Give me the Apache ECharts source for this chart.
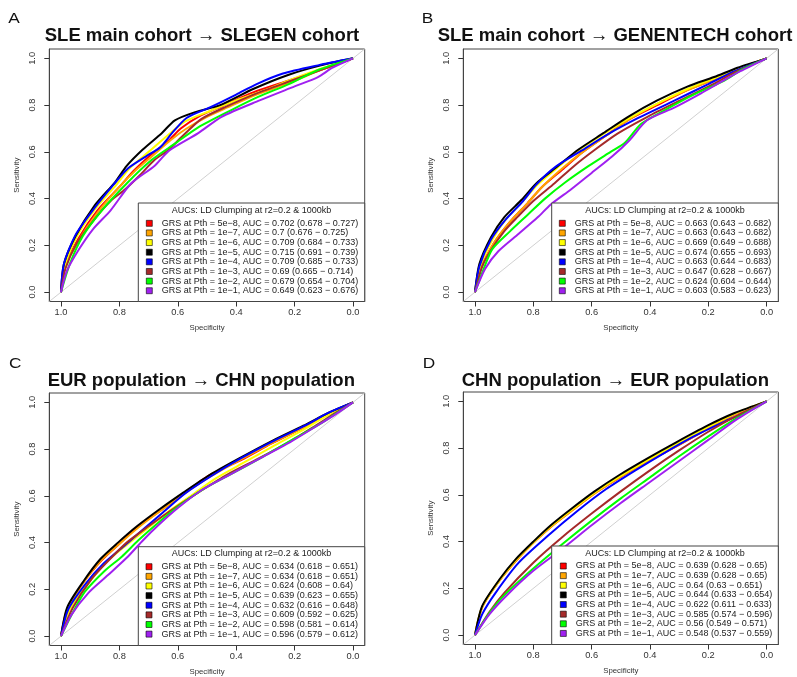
<!DOCTYPE html>
<html>
<head>
<meta charset="utf-8">
<script src="https://cdn.jsdelivr.net/npm/echarts@6/dist/echarts.min.js"></script>
<style>
html,body{margin:0;padding:0;background:#fff;}
#chart{width:797px;height:677px;}
</style>
</head>
<body>
<div id="chart"></div>
<script>
// ---------- DATA (specificity, sensitivity) ----------
const thresholds = ['5e−8','1e−7','1e−6','1e−5','1e−4','1e−3','1e−2','1e−1'];

const aucA = ['0.702 (0.678 − 0.727)','0.7 (0.676 − 0.725)','0.709 (0.684 − 0.733)','0.715 (0.691 − 0.739)','0.709 (0.685 − 0.733)','0.69 (0.665 − 0.714)','0.679 (0.654 − 0.704)','0.649 (0.623 − 0.676)'];
const aucB = ['0.663 (0.643 − 0.682)','0.663 (0.643 − 0.682)','0.669 (0.649 − 0.688)','0.674 (0.655 − 0.693)','0.663 (0.644 − 0.683)','0.647 (0.628 − 0.667)','0.624 (0.604 − 0.644)','0.603 (0.583 − 0.623)'];
const aucC = ['0.634 (0.618 − 0.651)','0.634 (0.618 − 0.651)','0.624 (0.608 − 0.64)','0.639 (0.623 − 0.655)','0.632 (0.616 − 0.648)','0.609 (0.592 − 0.625)','0.598 (0.581 − 0.614)','0.596 (0.579 − 0.612)'];
const aucD = ['0.639 (0.628 − 0.65)','0.639 (0.628 − 0.65)','0.64 (0.63 − 0.651)','0.644 (0.633 − 0.654)','0.622 (0.611 − 0.633)','0.585 (0.574 − 0.596)','0.56 (0.549 − 0.571)','0.548 (0.537 − 0.559)'];

const panelTitles = ['SLE main cohort → SLEGEN cohort','SLE main cohort → GENENTECH cohort','EUR population → CHN population','CHN population → EUR population'];
const panelLetters = ['A','B','C','D'];
const legendTitle = 'AUCs: LD Clumping at r2=0.2 & 1000kb';
const tickValues = [0,0.2,0.4,0.6,0.8,1.0];
const diagonal = [[1.04,-0.04],[-0.04,1.04]];

const A_red    = [[1,0],[0.985,0.11],[0.94,0.23],[0.875,0.35],[0.80,0.45],[0.75,0.52],[0.69,0.59],[0.63,0.65],[0.59,0.70],[0.53,0.75],[0.45,0.795],[0.34,0.855],[0.22,0.905],[0.10,0.955],[0,1]];
const A_orange = [[1,0],[0.985,0.11],[0.94,0.22],[0.875,0.34],[0.80,0.45],[0.745,0.52],[0.68,0.59],[0.625,0.65],[0.57,0.70],[0.50,0.75],[0.43,0.79],[0.33,0.845],[0.22,0.895],[0.10,0.955],[0,1]];
const A_yellow = [[1,0],[0.985,0.12],[0.945,0.24],[0.88,0.36],[0.81,0.46],[0.765,0.53],[0.70,0.60],[0.635,0.67],[0.575,0.73],[0.49,0.775],[0.40,0.82],[0.30,0.865],[0.20,0.915],[0.10,0.96],[0,1]];
const A_black  = [[1,0],[0.99,0.12],[0.95,0.24],[0.885,0.37],[0.815,0.47],[0.775,0.54],[0.72,0.61],[0.655,0.68],[0.61,0.735],[0.54,0.77],[0.455,0.80],[0.34,0.87],[0.22,0.93],[0.11,0.97],[0,1]];
const A_blue   = [[1,0],[0.99,0.12],[0.95,0.245],[0.885,0.36],[0.82,0.46],[0.77,0.53],[0.71,0.58],[0.66,0.62],[0.62,0.68],[0.57,0.745],[0.49,0.79],[0.40,0.845],[0.33,0.89],[0.24,0.935],[0.12,0.97],[0,1]];
const A_brown  = [[1,0],[0.985,0.10],[0.945,0.21],[0.88,0.32],[0.83,0.39],[0.78,0.44],[0.73,0.50],[0.68,0.565],[0.63,0.61],[0.59,0.66],[0.52,0.74],[0.44,0.79],[0.33,0.85],[0.21,0.905],[0.10,0.955],[0,1]];
const A_green  = [[1,0],[0.97,0.12],[0.925,0.24],[0.86,0.35],[0.775,0.465],[0.69,0.565],[0.61,0.635],[0.53,0.705],[0.415,0.78],[0.325,0.835],[0.22,0.89],[0.12,0.95],[0,1]];
const A_purple = [[1,0],[0.98,0.09],[0.94,0.18],[0.89,0.27],[0.83,0.35],[0.76,0.465],[0.68,0.54],[0.63,0.605],[0.53,0.68],[0.45,0.75],[0.32,0.82],[0.20,0.88],[0.12,0.92],[0.07,0.96],[0,1]];

const B_red    = [[1,0],[0.98,0.10],[0.935,0.21],[0.88,0.30],[0.82,0.38],[0.77,0.45],[0.70,0.525],[0.63,0.60],[0.55,0.67],[0.47,0.74],[0.375,0.80],[0.27,0.865],[0.18,0.91],[0.10,0.955],[0,1]];
const B_orange = [[1,0],[0.98,0.10],[0.935,0.21],[0.88,0.30],[0.82,0.38],[0.77,0.45],[0.70,0.53],[0.63,0.60],[0.55,0.67],[0.47,0.74],[0.375,0.805],[0.27,0.865],[0.18,0.91],[0.10,0.955],[0,1]];
const B_yellow = [[1,0],[0.983,0.11],[0.94,0.225],[0.895,0.31],[0.835,0.39],[0.785,0.46],[0.715,0.535],[0.64,0.61],[0.555,0.68],[0.47,0.745],[0.37,0.81],[0.27,0.87],[0.18,0.915],[0.10,0.955],[0,1]];
const B_black  = [[1,0],[0.985,0.12],[0.945,0.235],[0.90,0.32],[0.84,0.395],[0.79,0.465],[0.72,0.535],[0.645,0.61],[0.56,0.68],[0.475,0.75],[0.375,0.82],[0.27,0.88],[0.18,0.92],[0.10,0.96],[0,1]];
const B_blue   = [[1,0],[0.985,0.11],[0.945,0.225],[0.895,0.31],[0.835,0.39],[0.79,0.46],[0.725,0.535],[0.635,0.605],[0.545,0.675],[0.44,0.745],[0.315,0.82],[0.20,0.89],[0.11,0.945],[0,1]];
const B_brown  = [[1,0],[0.975,0.11],[0.945,0.18],[0.90,0.26],[0.853,0.323],[0.80,0.39],[0.727,0.466],[0.66,0.54],[0.59,0.608],[0.51,0.679],[0.407,0.751],[0.293,0.822],[0.178,0.893],[0.11,0.94],[0,1]];
const B_green  = [[1,0],[0.97,0.10],[0.94,0.185],[0.88,0.26],[0.82,0.33],[0.76,0.40],[0.69,0.47],[0.61,0.54],[0.535,0.60],[0.485,0.64],[0.43,0.72],[0.34,0.785],[0.25,0.845],[0.145,0.905],[0.08,0.955],[0,1]];
const B_purple = [[1,0],[0.965,0.10],[0.92,0.175],[0.85,0.25],[0.785,0.32],[0.74,0.375],[0.67,0.44],[0.60,0.51],[0.53,0.58],[0.47,0.65],[0.41,0.735],[0.315,0.79],[0.225,0.85],[0.155,0.90],[0.09,0.945],[0,1]];

const C_red    = [[1,0],[0.977,0.12],[0.92,0.235],[0.86,0.325],[0.80,0.395],[0.735,0.47],[0.65,0.545],[0.575,0.615],[0.49,0.69],[0.38,0.755],[0.28,0.823],[0.165,0.895],[0.083,0.952],[0,1]];
const C_orange = [[1,0],[0.978,0.12],[0.92,0.235],[0.862,0.325],[0.80,0.395],[0.735,0.465],[0.655,0.54],[0.575,0.612],[0.485,0.685],[0.385,0.755],[0.28,0.825],[0.165,0.895],[0.083,0.952],[0,1]];
const C_yellow = [[1,0],[0.972,0.11],[0.91,0.22],[0.85,0.31],[0.775,0.39],[0.705,0.46],[0.63,0.535],[0.55,0.605],[0.47,0.675],[0.37,0.745],[0.27,0.815],[0.16,0.89],[0.08,0.95],[0,1]];
const C_black  = [[1,0],[0.978,0.125],[0.92,0.24],[0.865,0.33],[0.805,0.40],[0.74,0.47],[0.66,0.545],[0.58,0.615],[0.49,0.69],[0.39,0.76],[0.285,0.83],[0.17,0.90],[0.085,0.955],[0,1]];
const C_blue   = [[1,0],[0.975,0.115],[0.915,0.225],[0.855,0.31],[0.785,0.385],[0.72,0.455],[0.65,0.53],[0.575,0.61],[0.485,0.685],[0.385,0.76],[0.28,0.83],[0.165,0.90],[0.085,0.955],[0,1]];
const C_brown  = [[1,0],[0.96,0.12],[0.895,0.245],[0.832,0.33],[0.775,0.40],[0.70,0.47],[0.615,0.545],[0.529,0.615],[0.432,0.69],[0.323,0.76],[0.22,0.83],[0.129,0.90],[0.06,0.955],[0,1]];
const C_green  = [[1,0],[0.96,0.10],[0.918,0.19],[0.85,0.28],[0.792,0.34],[0.735,0.41],[0.672,0.48],[0.598,0.555],[0.518,0.625],[0.415,0.695],[0.312,0.765],[0.215,0.835],[0.123,0.90],[0.055,0.955],[0,1]];
const C_purple = [[1,0],[0.965,0.09],[0.906,0.185],[0.84,0.26],[0.775,0.335],[0.723,0.405],[0.666,0.475],[0.598,0.55],[0.518,0.625],[0.415,0.695],[0.312,0.765],[0.215,0.83],[0.123,0.90],[0.055,0.953],[0,1]];

const D_red    = [[1,0],[0.975,0.12],[0.915,0.235],[0.858,0.32],[0.80,0.395],[0.738,0.465],[0.66,0.54],[0.585,0.61],[0.50,0.677],[0.405,0.744],[0.30,0.814],[0.20,0.884],[0.108,0.945],[0,1]];
const D_orange = [[1,0],[0.975,0.12],[0.915,0.235],[0.858,0.32],[0.80,0.395],[0.738,0.465],[0.66,0.54],[0.585,0.61],[0.50,0.678],[0.405,0.745],[0.30,0.815],[0.20,0.885],[0.108,0.945],[0,1]];
const D_yellow = [[1,0],[0.975,0.122],[0.915,0.237],[0.86,0.322],[0.80,0.397],[0.74,0.467],[0.663,0.542],[0.588,0.612],[0.503,0.68],[0.408,0.75],[0.305,0.82],[0.203,0.89],[0.11,0.948],[0,1]];
const D_black  = [[1,0],[0.975,0.125],[0.915,0.24],[0.86,0.325],[0.80,0.40],[0.74,0.47],[0.665,0.545],[0.59,0.615],[0.505,0.685],[0.41,0.755],[0.31,0.825],[0.205,0.895],[0.11,0.95],[0,1]];
const D_blue   = [[1,0],[0.975,0.09],[0.93,0.18],[0.85,0.31],[0.75,0.425],[0.65,0.53],[0.55,0.625],[0.45,0.705],[0.35,0.78],[0.25,0.85],[0.15,0.91],[0.07,0.955],[0,1]];
const D_brown  = [[1,0],[0.95,0.10],[0.90,0.18],[0.80,0.31],[0.70,0.42],[0.60,0.52],[0.50,0.615],[0.40,0.705],[0.30,0.79],[0.20,0.87],[0.10,0.94],[0,1]];
const D_green  = [[1,0],[0.95,0.095],[0.90,0.17],[0.80,0.285],[0.70,0.39],[0.60,0.49],[0.50,0.585],[0.40,0.675],[0.30,0.765],[0.20,0.85],[0.10,0.93],[0,1]];
const D_purple = [[1,0],[0.95,0.09],[0.887,0.175],[0.80,0.275],[0.70,0.37],[0.60,0.47],[0.50,0.565],[0.40,0.655],[0.30,0.745],[0.20,0.835],[0.10,0.925],[0,1]];

// ---------- STYLE / LAYOUT ----------
const COLORS = ['#FF0000','#FFA500','#FFFF00','#000000','#0000FF','#A52A2A','#00FF00','#A020F0'];
const FONT = '"Liberation Sans", Arial, Helvetica, sans-serif';
const panels = [
  {curves:[A_red,A_orange,A_yellow,A_black,A_blue,A_brown,A_green,A_purple], auc:aucA,
   grid:{left:49.3, top:49, width:315.4, height:252.5}, titleXY:[202,36], letterXY:[8.3,18.7],
   legBox:[138.3,203], legItem:[146,218.5]},
  {curves:[B_red,B_orange,B_yellow,B_black,B_blue,B_brown,B_green,B_purple], auc:aucB,
   grid:{left:463.3, top:49, width:315, height:252.5}, titleXY:[615,36], letterXY:[421.7,18.7],
   legBox:[551.7,203], legItem:[559,218.5]},
  {curves:[C_red,C_orange,C_yellow,C_black,C_blue,C_brown,C_green,C_purple], auc:aucC,
   grid:{left:49.3, top:393, width:315.4, height:252.5}, titleXY:[201.3,381], letterXY:[9,363.7],
   legBox:[138.3,546.7], legItem:[145.7,561.9]},
  {curves:[D_red,D_orange,D_yellow,D_black,D_blue,D_brown,D_green,D_purple], auc:aucD,
   grid:{left:463.3, top:392, width:315, height:252.5}, titleXY:[615.3,381], letterXY:[422.7,364],
   legBox:[551.7,546], legItem:[560,561.2]}
];

const grids=[], xAxes=[], yAxes=[], series=[], legends=[], graphics=[];
panels.forEach((p, gi) => {
  grids.push(Object.assign({show:true, borderColor:'#444', borderWidth:1, backgroundColor:'transparent'}, p.grid));
  xAxes.push({
    type:'value', gridIndex:gi, min:-0.04, max:1.04, inverse:true, position:'bottom',
    axisLine:{show:true, onZero:false, lineStyle:{color:'#444', width:1}}, splitLine:{show:false},
    axisTick:{show:true, customValues:tickValues, length:5, lineStyle:{color:'#333', width:1}},
    axisLabel:{customValues:tickValues, formatter:v=>v.toFixed(1), fontSize:9.3, color:'#333', margin:6, fontFamily:FONT},
    name:'Specificity', nameLocation:'middle', nameGap:22,
    nameTextStyle:{fontSize:7.8, color:'#333', fontFamily:FONT}
  });
  yAxes.push({
    type:'value', gridIndex:gi, min:-0.04, max:1.04, position:'left',
    axisLine:{show:true, onZero:false, lineStyle:{color:'#444', width:1}}, splitLine:{show:false},
    axisTick:{show:true, customValues:tickValues, length:5, lineStyle:{color:'#333', width:1}},
    axisLabel:{customValues:tickValues, formatter:v=>v.toFixed(1), fontSize:9.3, color:'#333', margin:12, rotate:90, fontFamily:FONT},
    name:'Sensitivity', nameLocation:'middle', nameGap:28, nameRotate:90,
    nameTextStyle:{fontSize:7.8, color:'#333', fontFamily:FONT}
  });
  series.push({
    name:'diag'+gi, type:'line', xAxisIndex:gi, yAxisIndex:gi, data:diagonal,
    symbol:'none', silent:true, lineStyle:{color:'#d0d0d0', width:1}, z:1
  });
  const names = [];
  p.curves.forEach((c, k) => {
    const nm = 'GRS at Pth = ' + thresholds[k] + ', AUC = ' + p.auc[k];
    names.push(nm);
    series.push({
      name:nm, type:'line', xAxisIndex:gi, yAxisIndex:gi, data:c,
      symbol:'none', showSymbol:false, silent:true, smooth:0.25,
      lineStyle:{color:COLORS[k], width:2}, itemStyle:{color:COLORS[k]}, z:2
    });
  });
  legends.push({
    data:names, orient:'vertical', left:p.legItem[0], top:p.legItem[1],
    icon:'rect', itemWidth:6, itemHeight:6, itemGap:0, padding:0, selectedMode:false,
    itemStyle:{borderColor:'#000', borderWidth:0.6},
    textStyle:{fontSize:9, color:'#222', fontFamily:FONT, lineHeight:9.63, padding:[0,0,0,4.4]},
    z:6
  });
  const g = p.grid;
  const bx = p.legBox[0], by = p.legBox[1];
  const bw = g.left + g.width - bx, bh = g.top + g.height - by;
  graphics.push({type:'rect', shape:{x:bx, y:by, width:bw, height:bh},
    style:{fill:'#fff', stroke:'#444', lineWidth:1}, z:5});
  graphics.push({type:'text', x:bx + bw/2, y:by + 7.3, z:7,
    style:{text:legendTitle, font:'9px ' + FONT, fill:'#222', textAlign:'center', textVerticalAlign:'middle'}});
  graphics.push({type:'text', x:p.titleXY[0], y:p.titleXY[1], z:7,
    style:{text:panelTitles[gi], font:'bold 18.5px ' + FONT, fill:'#111', textAlign:'center', textVerticalAlign:'middle'}});
  graphics.push({type:'text', x:p.letterXY[0], y:p.letterXY[1], z:7, scaleX:1.15,
    style:{text:panelLetters[gi], font:'15px ' + FONT, fill:'#111', textAlign:'left', textVerticalAlign:'middle'}});
});

const chart = echarts.init(document.getElementById('chart'), null, {renderer:'canvas'});
chart.setOption({
  animation:false,
  backgroundColor:'#fff',
  grid:grids, xAxis:xAxes, yAxis:yAxes, series:series, legend:legends,
  graphic:{elements:graphics}
});
</script>
</body>
</html>
